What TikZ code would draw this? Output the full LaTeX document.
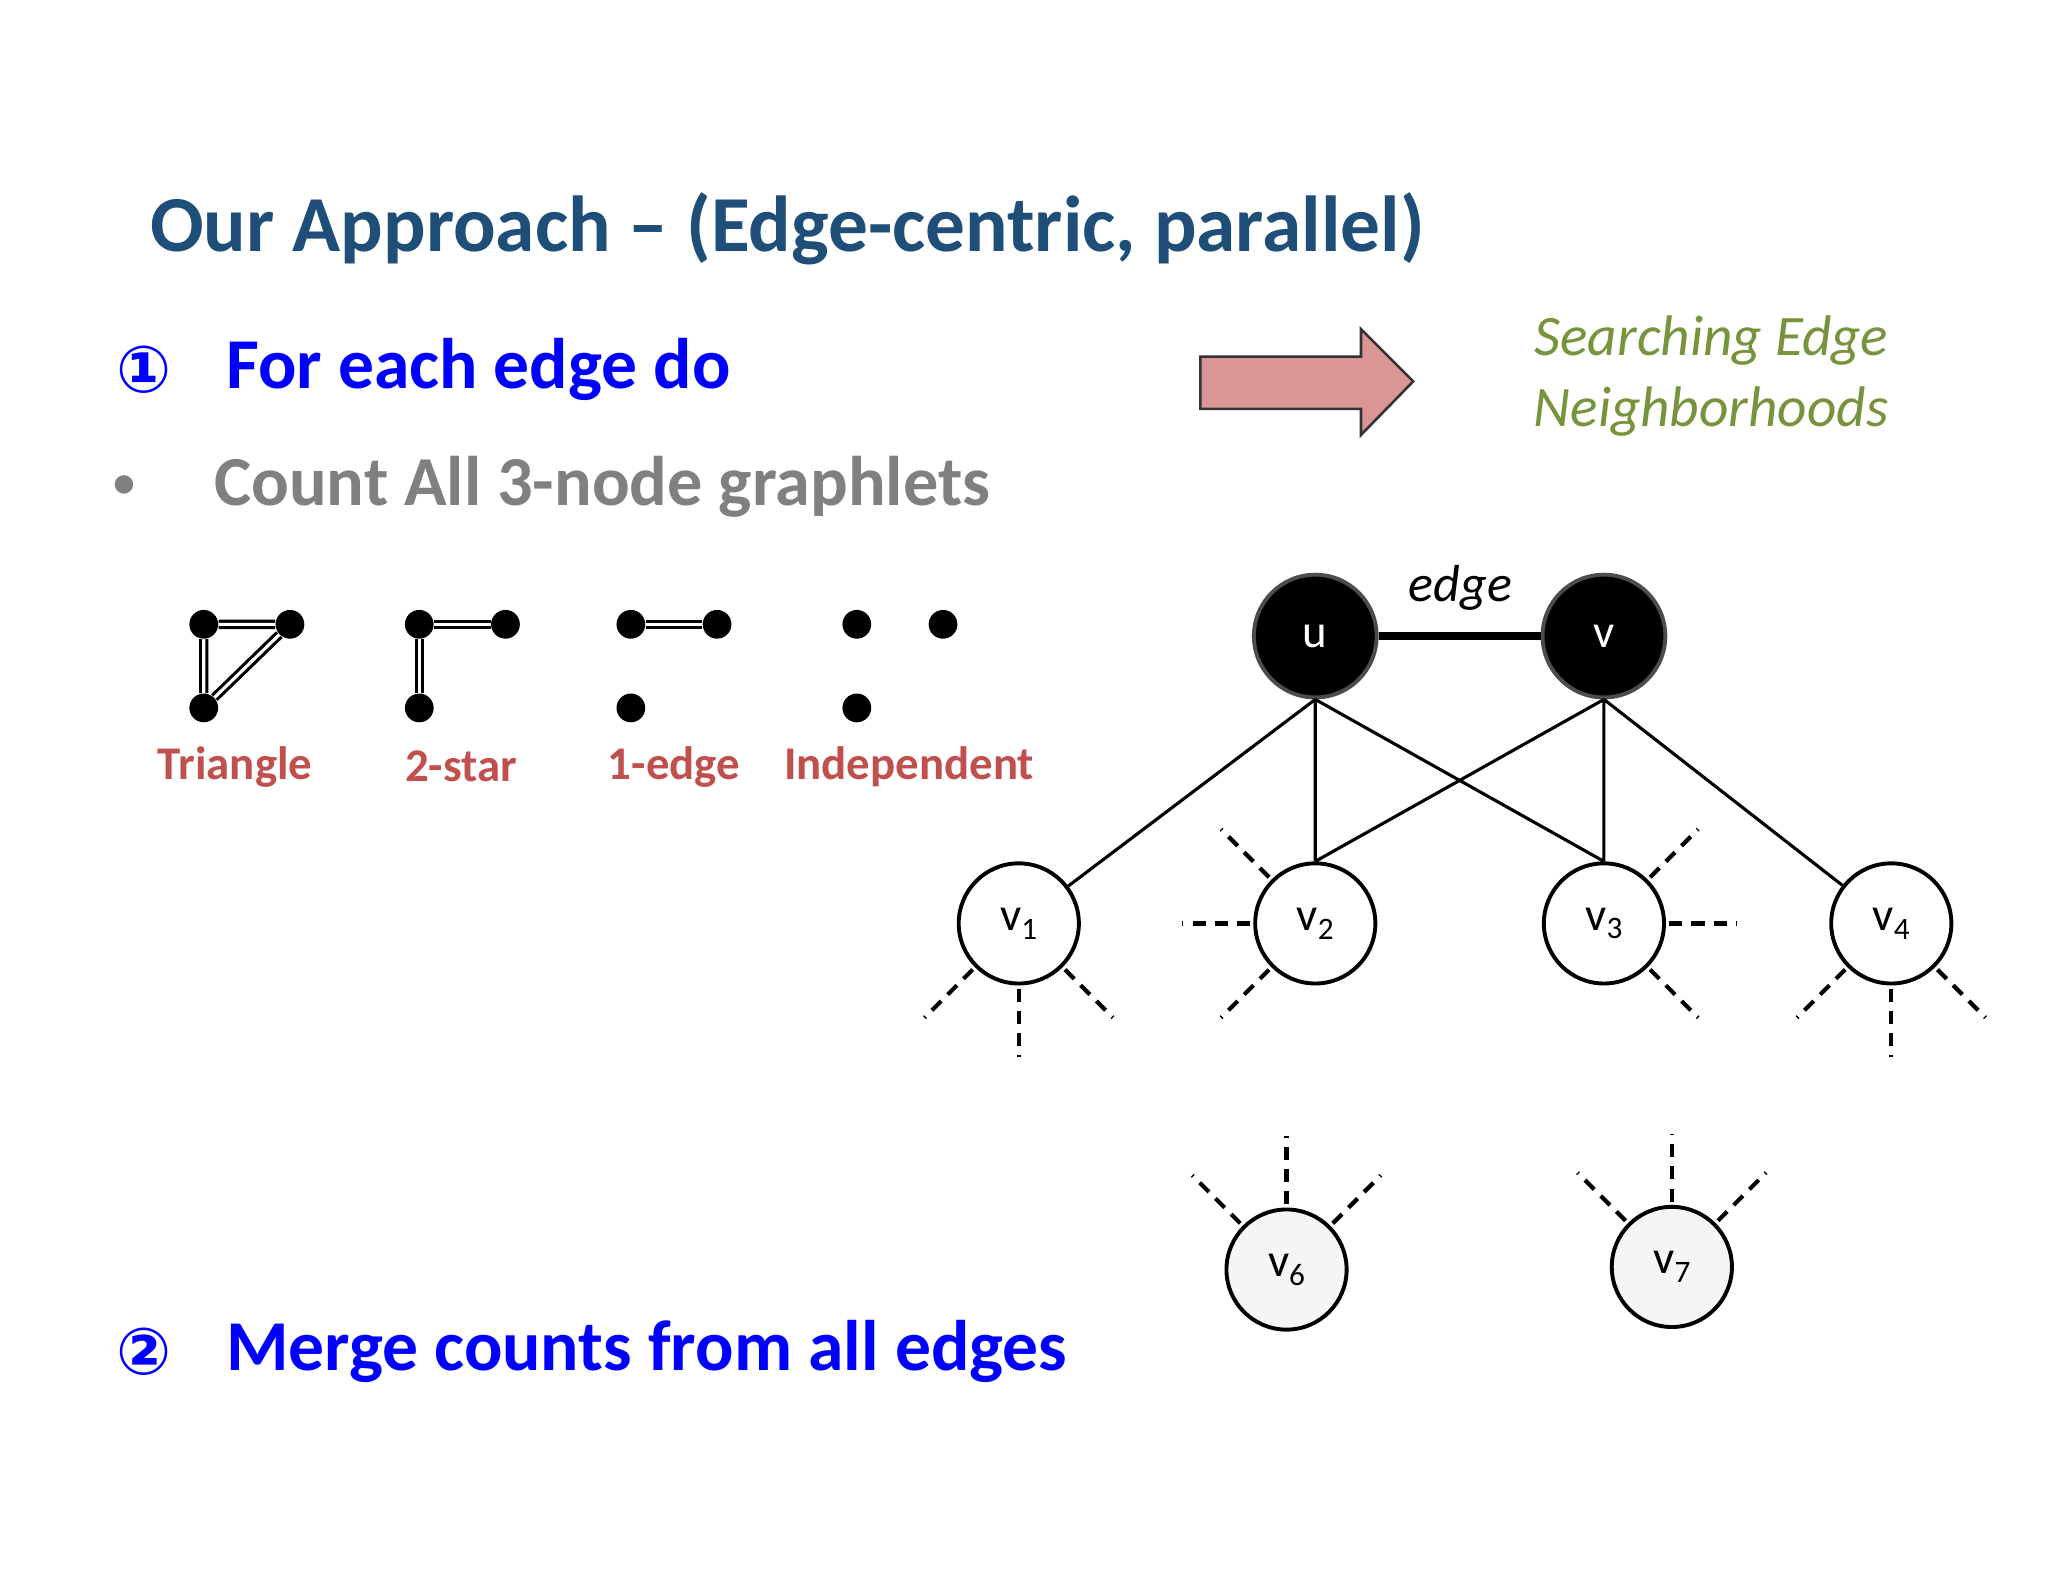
\documentclass[tikz,border=0pt]{standalone}
\usepackage{fontspec}
\usetikzlibrary{calc}
\setmainfont{Carlito}
\newfontfamily\djv{DejaVu Sans}
\definecolor{tblue}{HTML}{1F4E79}
\definecolor{pinkar}{HTML}{D99694}
\definecolor{olv}{HTML}{77933C}
\definecolor{lred}{HTML}{C0504D}
\begin{document}
\begin{tikzpicture}[x=0.5bp,y=-0.5bp,
 big/.style={circle,fill=black,draw=black!70,line width=1.5pt,minimum size=47bp,inner sep=0pt,text=white,font=\fontsize{18}{20}\selectfont},
 sm/.style={circle,fill=white,draw=black,line width=1.5pt,minimum size=46bp,inner sep=0pt,font=\fontsize{18}{20}\selectfont},
 dot/.style={circle,fill=black,minimum size=11bp,inner sep=0pt},
 ln/.style={line width=1.2pt},
 ray/.style={dash pattern=on 5bp off 3.5bp,line width=1.6pt},
 glab/.style={text=lred,font=\bfseries\fontsize{18}{20}\selectfont}]
\useasboundingbox[fill=white] (0,0) rectangle (1568,1211);
\node[anchor=west,text=tblue,font=\bfseries\fontsize{30.5}{34}\selectfont] (title) at (108,175) {Our Approach -- (Edge-centric, parallel)};
\node[text=blue,font=\djv\bfseries\fontsize{25}{28}\selectfont] (c1) at (110,283) {①};
\node[anchor=west,text=blue,font=\bfseries\fontsize{27.5}{30}\selectfont] (t1) at (166,283) {For each edge do};
\node[text=gray,font=\fontsize{20}{24}\selectfont] (b) at (95,373) {•};
\node[anchor=west,text=gray,font=\bfseries\fontsize{27}{30}\selectfont] (t2) at (157,373) {Count All 3-node graphlets};
\node[text=blue,font=\djv\bfseries\fontsize{25}{28}\selectfont] (c2) at (110,1035) {②};
\node[anchor=west,text=blue,font=\bfseries\fontsize{27.5}{30}\selectfont] (t3) at (166,1035) {Merge counts from all edges};
% arrow
\fill[pinkar,draw=black!80,line width=1pt] (919,273)--(1042,273)--(1042,252)--(1082,292)--(1042,333)--(1042,313)--(919,313)--cycle;
\node[text=olv,font=\itshape\fontsize{22}{27}\selectfont,align=right] (s) at (1310,288) {Searching Edge\\ Neighborhoods};
% graphlets
\foreach \n/\x in {a/156,b/321,c/483,d/656}{
 \node[dot] (\n1) at (\x,478) {};
 \node[dot] (\n2) at (\x+66,478) {};
 \node[dot] (\n3) at (\x,542) {};}
\draw[ln,double,double distance=1.2pt] (a1)--(a2) (a1)--(a3) (a2)--(a3);
\draw[ln,double,double distance=1.2pt] (b1)--(b2) (b1)--(b3);
\draw[ln,double,double distance=1.2pt] (c1)--(c2);
\node[glab] (l1) at (180,587) {Triangle};
\node[glab] (l2) at (353,587) {2-star};
\node[glab] (l3) at (516,587) {1-edge};
\node[glab] (l4) at (696,587) {Independent};
% graph
\node[big] (u) at (1007,487) {u};
\node[big] (v) at (1228,487) {v};
\node[sm] (v1) at (780,707) {v\raisebox{-0.4ex}{\fontsize{12}{12}\selectfont 1}};
\node[sm] (v2) at (1007,707) {v\raisebox{-0.4ex}{\fontsize{12}{12}\selectfont 2}};
\node[sm] (v3) at (1228,707) {v\raisebox{-0.4ex}{\fontsize{12}{12}\selectfont 3}};
\node[sm] (v4) at (1448,707) {v\raisebox{-0.4ex}{\fontsize{12}{12}\selectfont 4}};
\node[sm,fill=gray!8] (v6) at (985,972) {v\raisebox{-0.4ex}{\fontsize{12}{12}\selectfont 6}};
\node[sm,fill=gray!8] (v7) at (1280,970) {v\raisebox{-0.4ex}{\fontsize{12}{12}\selectfont 7}};
\draw[line width=3pt] (u)--(v);
\node[font=\itshape\fontsize{20}{22}\selectfont] (e) at (1118,450) {edge};
\draw[ln] (u.south)--(v1) (u.south)--(v2) (u.south)--(v3.north) (v.south)--(v2.north) (v.south)--(v3) (v.south)--(v4);
% rays
\foreach \nd/\a/\b/\c in {v1/90/135/45, v4/90/135/45, v2/180/135/225, v3/0/45/-45, v6/-90/-45/-135, v7/-90/-45/-135}{
 \foreach \ang in {\a,\b,\c}{
  \draw[ray] ($(\nd)+(\ang:50)$) -- ($(\nd)+(\ang:102)$);}}
\end{tikzpicture}
\end{document}
